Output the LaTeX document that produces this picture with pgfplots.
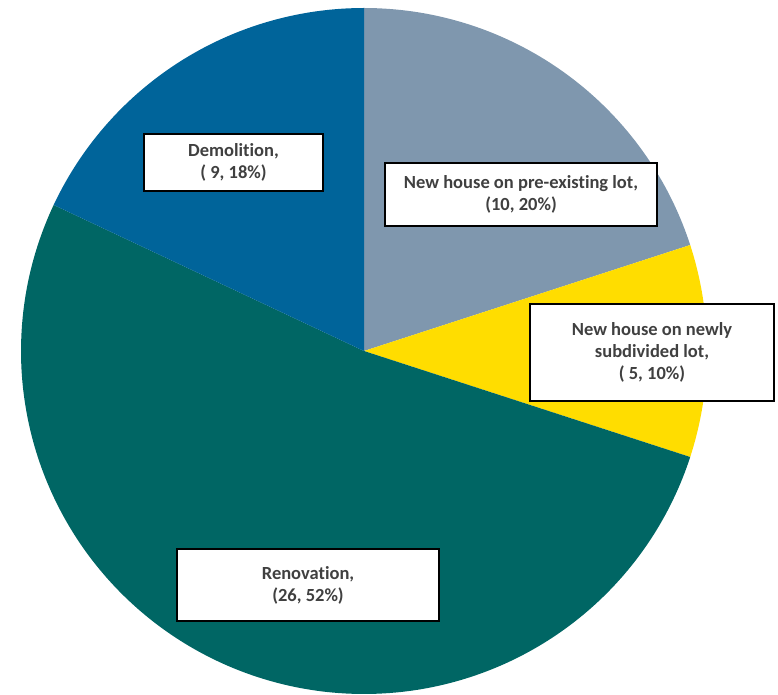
\documentclass[border=0pt]{standalone}
\usepackage{pgfplots}
\pgfplotsset{compat=1.18}
\usepackage{fontspec}
\setmainfont{Carlito}[Ligatures=CommonOff]
\definecolor{cGray}{HTML}{7F97AE}
\definecolor{cYellow}{HTML}{FFDD00}
\definecolor{cTeal}{HTML}{006664}
\definecolor{cBlue}{HTML}{00649A}
\definecolor{cText}{HTML}{404040}
\newcommand{\lblfont}{\fontsize{18.5}{22}\selectfont\bfseries}
\tikzset{lbl/.style={draw=black, line width=2pt, fill=white, align=center,
  inner sep=0pt, font=\lblfont, text=cText}}
% percentages of each slice (clockwise from 12 o'clock)
\def\pA{20}% New house on pre-existing lot (10)
\def\pB{10}% New house on newly subdivided lot (5)
\def\pC{52}% Renovation (26)
\def\pD{18}% Demolition (9)
\begin{document}
\begin{tikzpicture}
\pgfmathsetmacro\aO{90}
\pgfmathsetmacro\aA{90-3.6*\pA}
\pgfmathsetmacro\aB{90-3.6*(\pA+\pB)}
\pgfmathsetmacro\aC{90-3.6*(\pA+\pB+\pC)}
\pgfmathsetmacro\aD{90-3.6*(\pA+\pB+\pC+\pD)}
\begin{axis}[
  scale only axis, width=778pt, height=695pt,
  xmin=0, xmax=778, ymin=0, ymax=695,
  hide axis, clip=false
]
\path (axis cs:0,0) rectangle (axis cs:778,695);
\addplot[fill=cGray, draw=none, domain=\aA:\aO, samples=80, variable=\t]
  ({364+343*cos(\t)},{344+343*sin(\t)}) -- (axis cs:364,344) -- cycle;
\addplot[fill=cYellow, draw=none, domain=\aB:\aA, samples=60, variable=\t]
  ({364+343*cos(\t)},{344+343*sin(\t)}) -- (axis cs:364,344) -- cycle;
\addplot[fill=cTeal, draw=none, domain=\aC:\aB, samples=200, variable=\t]
  ({364+343*cos(\t)},{344+343*sin(\t)}) -- (axis cs:364,344) -- cycle;
\addplot[fill=cBlue, draw=none, domain=\aD:\aC, samples=80, variable=\t]
  ({364+343*cos(\t)},{344+343*sin(\t)}) -- (axis cs:364,344) -- cycle;

\node[lbl, minimum width=179pt, minimum height=57pt] at (axis cs:233.5,532.5)
  {Demolition,\\( 9, 18\%)};
\node[lbl, minimum width=272pt, minimum height=63pt] at (axis cs:521,500.5)
  {New house on pre-existing lot,\\(10, 20\%)};
\node[lbl, minimum width=244pt, minimum height=97pt] at (axis cs:652,342.5)
  {New house on newly\\subdivided lot,\\( 5, 10\%)};
\node[lbl, minimum width=262pt, minimum height=72pt] at (axis cs:308,110)
  {Renovation,\\(26, 52\%)};
\end{axis}
\end{tikzpicture}
\end{document}
